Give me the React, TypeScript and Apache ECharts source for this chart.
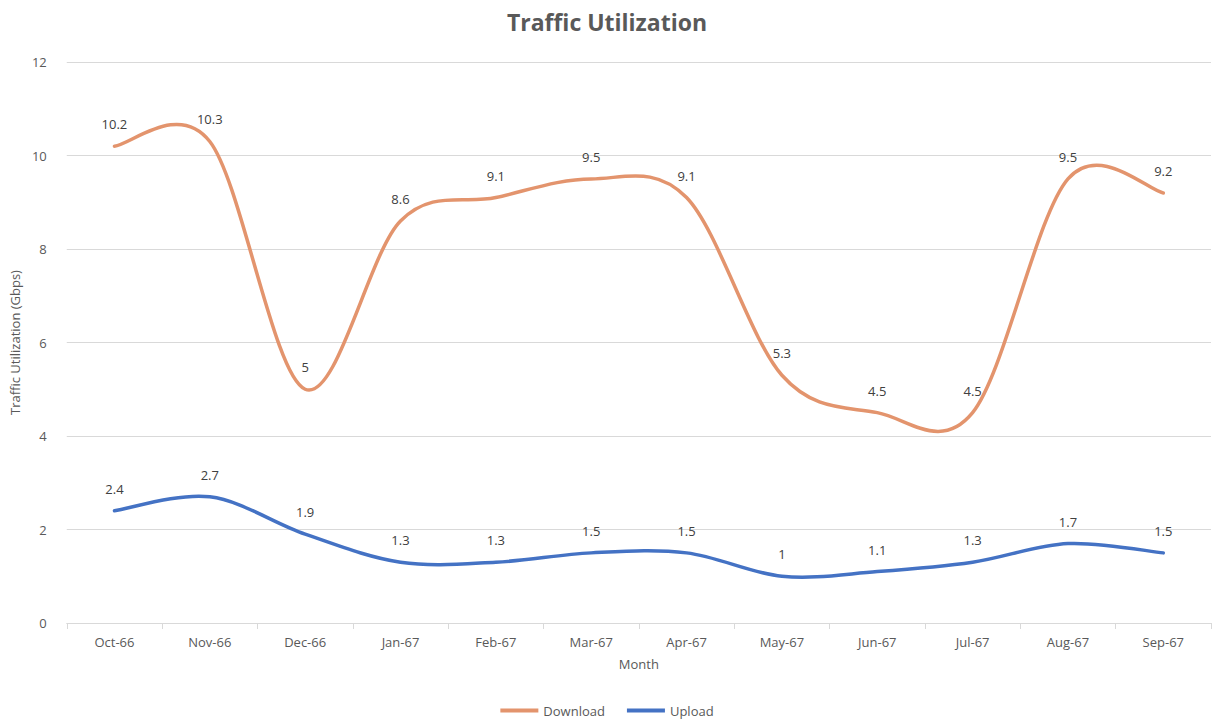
import React, { useEffect, useRef } from "react";
import * as echarts from "echarts";

const months = ["Oct-66", "Nov-66", "Dec-66", "Jan-67", "Feb-67", "Mar-67", "Apr-67", "May-67", "Jun-67", "Jul-67", "Aug-67", "Sep-67"];
const download = [10.2, 10.3, 5, 8.6, 9.1, 9.5, 9.1, 5.3, 4.5, 4.5, 9.5, 9.2];
const upload = [2.4, 2.7, 1.9, 1.3, 1.3, 1.5, 1.5, 1, 1.1, 1.3, 1.7, 1.5];

const FONT = "'Open Sans', 'Noto Sans', sans-serif";
const DL_COLOR = "#E3946D";
const UL_COLOR = "#4472C4";

// Excel-style smoothed curve (Catmull-Rom to Bezier), drawn through the axis scales
function curveSeries(name: string, values: number[], color: string) {
  return {
    name,
    type: "custom",
    silent: true,
    clip: false,
    z: 3,
    data: values.map((v, i) => [i, v]),
    encode: { x: 0, y: 1 },
    renderItem: (params: any, api: any) => {
      if (params.dataIndex !== 0) return null;
      const pts = values.map((v, i) => api.coord([i, v]));
      let d = `M${pts[0][0]},${pts[0][1]}`;
      for (let i = 0; i < pts.length - 1; i++) {
        const p0 = pts[Math.max(0, i - 1)];
        const p1 = pts[i];
        const p2 = pts[i + 1];
        const p3 = pts[Math.min(pts.length - 1, i + 2)];
        const c1x = p1[0] + (p2[0] - p0[0]) / 6;
        const c1y = p1[1] + (p2[1] - p0[1]) / 6;
        const c2x = p2[0] - (p3[0] - p1[0]) / 6;
        const c2y = p2[1] - (p3[1] - p1[1]) / 6;
        d += ` C${c1x},${c1y} ${c2x},${c2y} ${p2[0]},${p2[1]}`;
      }
      return {
        type: "path",
        shape: { pathData: d },
        style: { fill: null, stroke: color, lineWidth: 3.5, lineCap: "round", lineJoin: "round" },
      };
    },
  };
}

export default function App() {
  const ref = useRef<HTMLDivElement>(null);
  useEffect(() => {
    if (!ref.current) return;
    const chart = echarts.init(ref.current, undefined, { renderer: "svg" });
    const label = {
      show: true,
      position: "top",
      distance: 15,
      color: "#404040",
      fontSize: 13,
      fontFamily: FONT,
    };
    chart.setOption({
      animation: false,
      textStyle: { fontFamily: FONT },
      title: {
        text: "Traffic Utilization",
        left: "center",
        top: 5,
        textStyle: { fontSize: 23, fontWeight: "bold", color: "#595959", fontFamily: FONT },
      },
      legend: {
        bottom: 2,
        left: "center",
        itemWidth: 38,
        itemHeight: 4,
        itemGap: 22,
        icon: "rect",
        textStyle: { color: "#595959", fontSize: 13, fontFamily: FONT },
        data: [
          { name: "Download", itemStyle: { color: DL_COLOR } },
          { name: "Upload", itemStyle: { color: UL_COLOR } },
        ],
      },
      grid: { left: 63, right: 3, top: 62, bottom: 101 },
      xAxis: {
        type: "category",
        data: months,
        boundaryGap: true,
        name: "Month",
        nameLocation: "middle",
        nameGap: 34,
        nameTextStyle: { color: "#595959", fontSize: 13, fontFamily: FONT },
        axisLine: { lineStyle: { color: "#d9d9d9", width: 1 } },
        axisTick: { show: true, length: 6, lineStyle: { color: "#d9d9d9" } },
        axisLabel: { color: "#595959", fontSize: 13, margin: 12, fontFamily: FONT },
      },
      yAxis: {
        type: "value",
        min: 0,
        max: 12,
        interval: 2,
        name: "Traffic Utilization (Gbps)",
        nameLocation: "middle",
        nameGap: 45,
        nameTextStyle: { color: "#595959", fontSize: 13, fontFamily: FONT },
        axisLine: { show: false },
        axisTick: { show: false },
        axisLabel: { color: "#595959", fontSize: 13, margin: 20, fontFamily: FONT },
        splitLine: { lineStyle: { color: "#d9d9d9", width: 1 } },
      },
      series: [
        {
          name: "Download",
          type: "line",
          data: download,
          symbol: "circle",
          symbolSize: 1,
          color: DL_COLOR,
          itemStyle: { color: DL_COLOR },
          lineStyle: { width: 0, opacity: 0 },
          label,
          z: 4,
        },
        {
          name: "Upload",
          type: "line",
          data: upload,
          symbol: "circle",
          symbolSize: 1,
          color: UL_COLOR,
          itemStyle: { color: UL_COLOR },
          lineStyle: { width: 0, opacity: 0 },
          label,
          z: 4,
        },
        curveSeries("Download curve", download, DL_COLOR),
        curveSeries("Upload curve", upload, UL_COLOR),
      ],
    });
    return () => chart.dispose();
  }, []);
  return (
    <div
      ref={ref}
      style={{ position: "fixed", left: 0, top: 0, width: 1214, height: 724, background: "#fff" }}
    />
  );
}
